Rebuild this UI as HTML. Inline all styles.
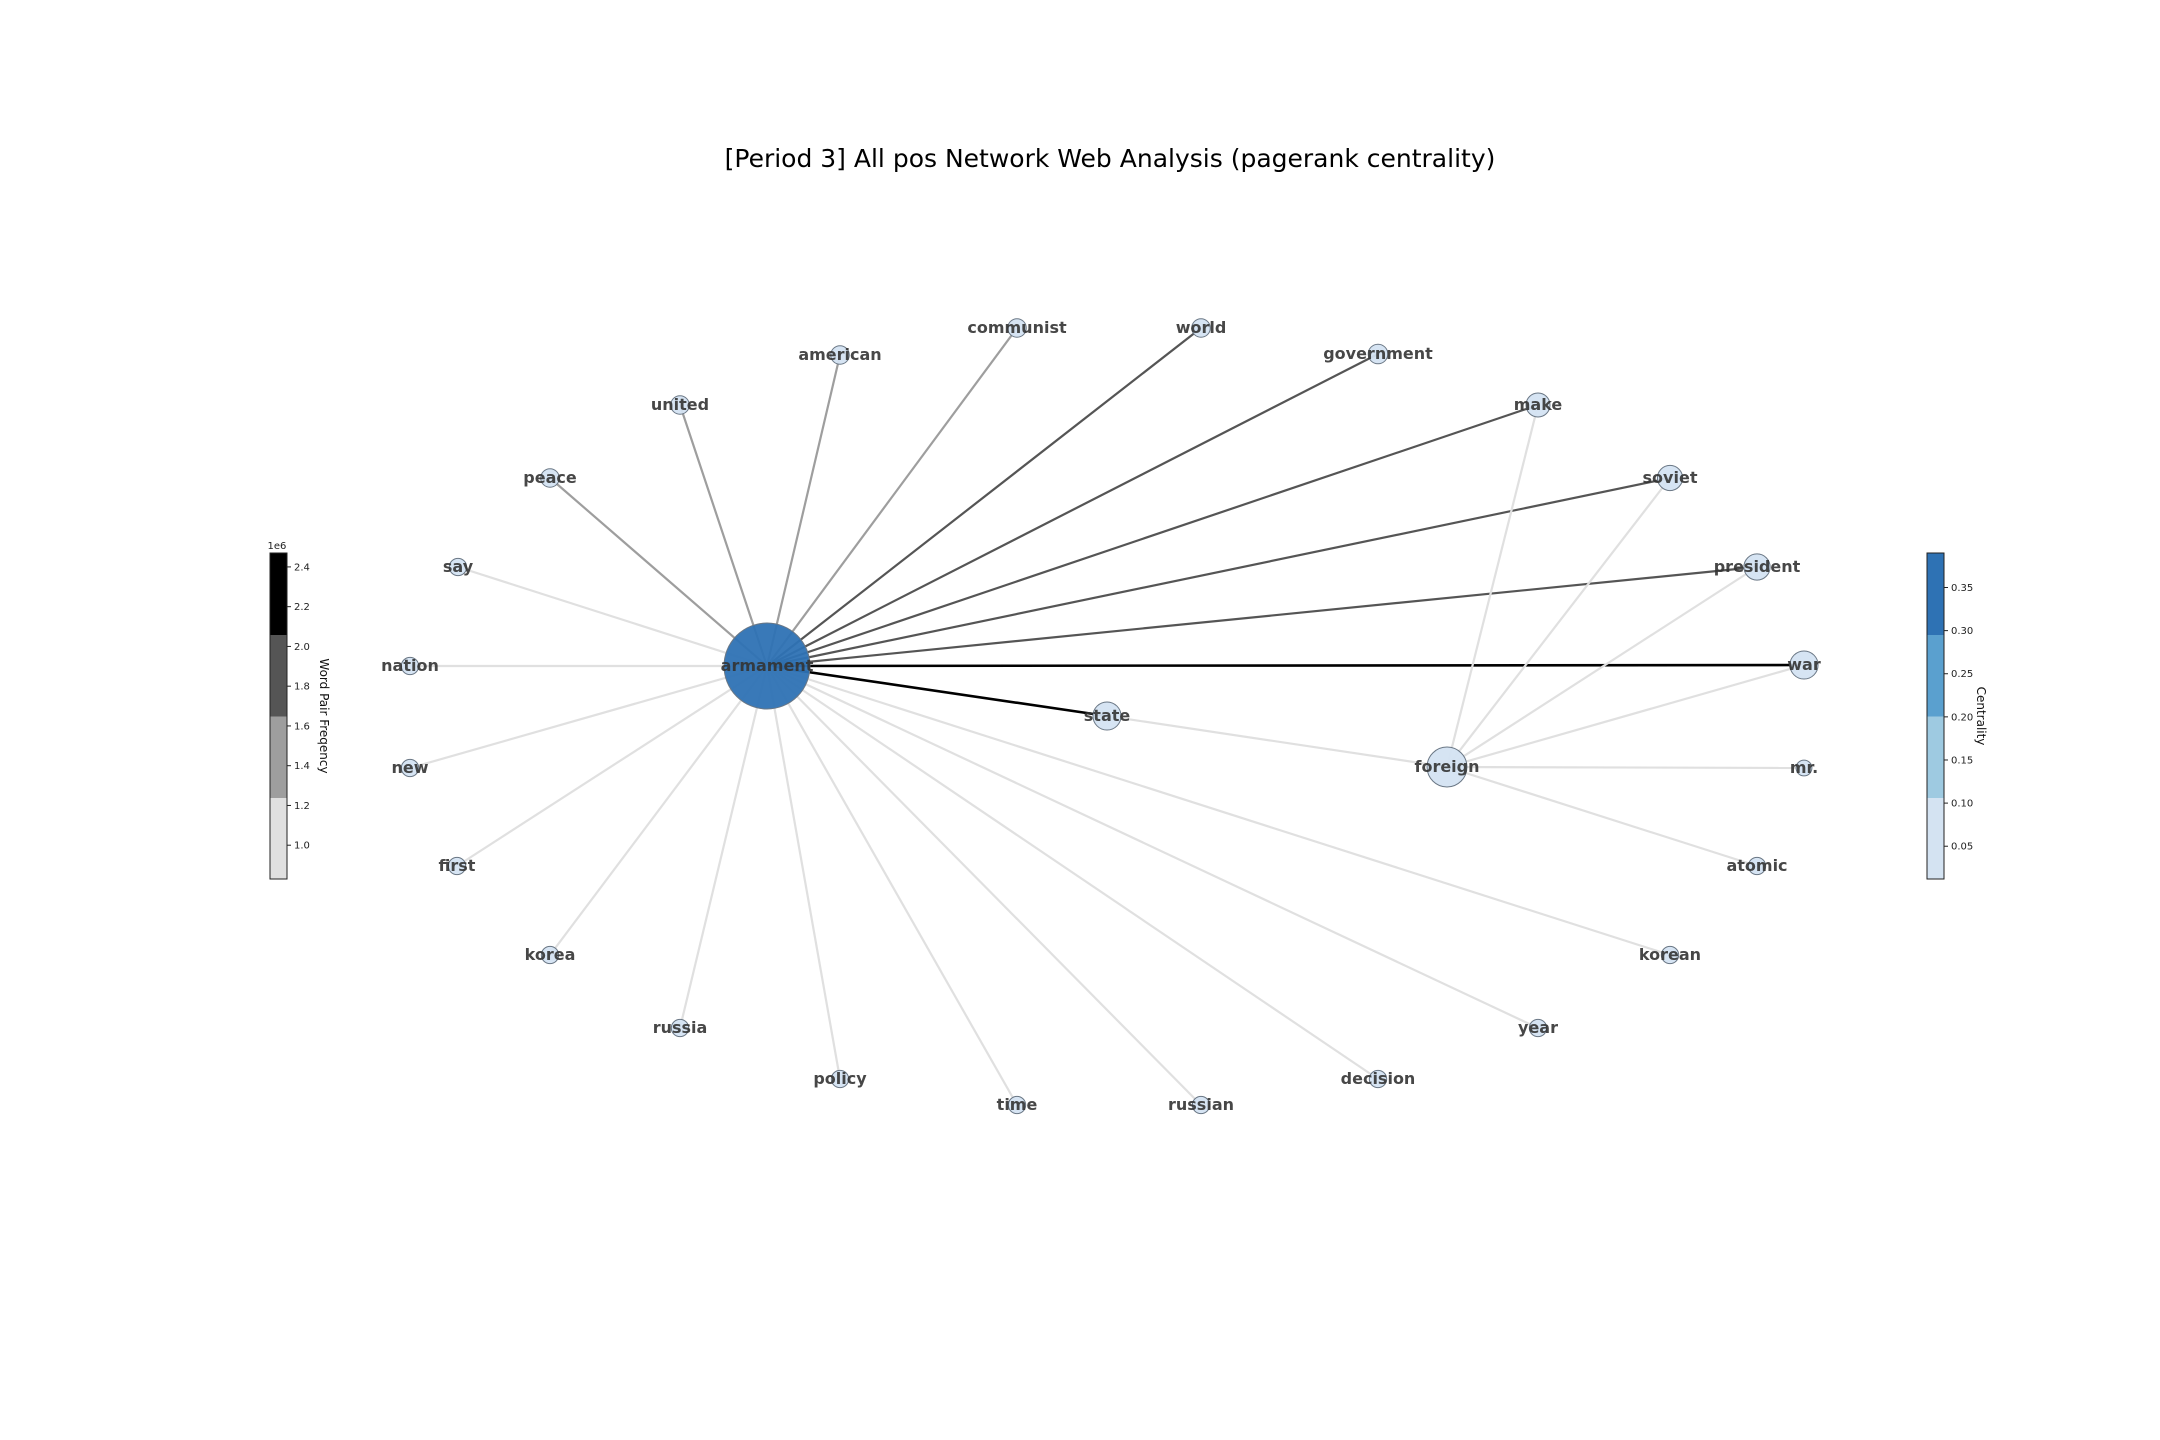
<!DOCTYPE html>
<html><head><meta charset="utf-8">
<style>
html,body{margin:0;padding:0;background:#fff;}
svg{display:block;font-family:"DejaVu Sans","Liberation Sans",sans-serif;}
</style></head>
<body>
<svg id="chart" width="2160" height="1440" viewBox="0 0 2160 1440">
<text x="1110" y="167" font-size="25" text-anchor="middle" fill="#000">[Period 3] All pos Network Web Analysis (pagerank centrality)</text>
<g id="edges"></g>
<g id="nodes"></g>
<g id="labels"></g>
<g id="cbLeft"></g>
<g id="cbRight"></g>
</svg>
<script>
// node words, centrality values, layout positions
const words = ["armament","state","foreign","war","president","soviet","make","government","world","communist","american","united","peace","say","nation","new","first","korea","russia","policy","time","russian","decision","year","korean","mr.","atomic"];
const centrality = [0.38,0.018,0.054,0.018,0.014,0.012,0.010,0.004,0.003,0.003,0.003,0.003,0.003,0.002,0.002,0.002,0.002,0.002,0.002,0.002,0.002,0.002,0.002,0.002,0.002,0.001,0.002];
const layoutX = [767,1107,1447,1804,1757,1670,1538,1378,1201,1017,840,680,550,458,410,410,457,550,680,840,1017,1201,1378,1538,1670,1804,1757];
const layoutY = [666,716,767,665,567,478,405,354,328,328,355,405,478,567,666,768,866,955,1028,1079,1105,1105,1079,1028,955,768,866];
// edges: source, target, frequency
const edgeSrc = ["armament","armament","armament","armament","armament","armament","armament","armament","armament","armament","armament","armament","armament","armament","armament","armament","armament","armament","armament","armament","armament","armament","armament","foreign","foreign","foreign","foreign","foreign","foreign","foreign"];
const edgeDst = ["war","state","president","soviet","make","government","world","communist","american","united","peace","say","nation","new","first","korea","russia","policy","time","russian","decision","year","korean","make","soviet","president","war","mr.","atomic","state"];
const edgeFreq = [2.45e6,2.3e6,1.9e6,1.85e6,1.8e6,1.75e6,1.7e6,1.5e6,1.45e6,1.4e6,1.35e6,1.0e6,1.0e6,0.95e6,0.95e6,0.9e6,0.9e6,0.9e6,0.9e6,0.9e6,0.9e6,0.9e6,0.9e6,0.9e6,0.9e6,0.9e6,0.9e6,0.9e6,0.9e6,0.9e6];
// colorbar ticks
const freqTicks = [1.0,1.2,1.4,1.6,1.8,2.0,2.2,2.4];
const centTicks = [0.05,0.10,0.15,0.20,0.25,0.30,0.35];

const NS="http://www.w3.org/2000/svg";
function mk(tag,attrs,parent){const e=document.createElementNS(NS,tag);for(const k in attrs)e.setAttribute(k,attrs[k]);parent.appendChild(e);return e;}
const fMin=0.83e6,fMax=2.47e6;
const grays=["#e0e0e0","#9e9e9e","#555555","#000000"];
function freqColor(f){let i=Math.floor((f-fMin)/(fMax-fMin)*4);return grays[Math.max(0,Math.min(3,i))];}
const cMin=0.012,cMax=0.39;
const blues=["#d4e3f2","#9ecae1","#5aa0cf","#2e72b4"];
function centColor(c){let i=Math.floor((c-cMin)/(cMax-cMin)*4);return blues[Math.max(0,Math.min(3,i))];}
function radius(c){return 6+Math.sqrt(c)*60;}
const idx={};words.forEach((w,i)=>idx[w]=i);

const eg=document.getElementById('edges');
for(let i=0;i<edgeSrc.length;i++){
  const a=idx[edgeSrc[i]],b=idx[edgeDst[i]];
  const col=freqColor(edgeFreq[i]);
  const l=mk('line',{x1:layoutX[a],y1:layoutY[a],x2:layoutX[b],y2:layoutY[b],stroke:col,'stroke-width':col==="#000000"?2.6:2.2},eg);
  
  
}
const ng=document.getElementById('nodes'),lg=document.getElementById('labels');
words.forEach((w,i)=>{
  const c=mk('circle',{cx:layoutX[i],cy:layoutY[i],r:radius(centrality[i]),fill:centColor(centrality[i]),'fill-opacity':0.95,stroke:'#6a7785','stroke-width':1},ng);
  
  
  const t=mk('text',{x:layoutX[i],y:layoutY[i]+5,'font-size':16,'font-weight':'bold','text-anchor':'middle',fill:'#333','fill-opacity':0.9},lg);
  t.textContent=w;
  
  
});
function colorbar(g,x,cols,ticks,vmin,vmax,fmt,label,extra){
  const top=553,bot=879,h=bot-top,w=17;
  for(let k=0;k<4;k++){
    const r=mk('rect',{x:x,y:bot-(k+1)*h/4,width:w,height:h/4+0.5,fill:cols[k]},g);
    
    
  }
  mk('rect',{x:x,y:top,width:w,height:h,fill:'none',stroke:'#222','stroke-width':1},g);
  ticks.forEach(v=>{
    const y=bot-(v-vmin)/(vmax-vmin)*h;
    mk('line',{x1:x+w,y1:y,x2:x+w+4,y2:y,stroke:'#222','stroke-width':1},g);
    const t=mk('text',{x:x+w+7,y:y+3.5,'font-size':10,fill:'#222'},g);
    t.textContent=fmt(v);
    
    
  });
  const lx=x+w+33,ly=(top+bot)/2;
  const lt=mk('text',{x:lx,y:ly,'font-size':12,fill:'#111','text-anchor':'middle',transform:`rotate(90 ${lx} ${ly})`},g);
  lt.textContent=label;
  
  
  if(extra){const e=mk('text',{x:x+7,y:top-4,'font-size':10,fill:'#222','text-anchor':'middle'},g);e.textContent=extra;
    
    }
}
colorbar(document.getElementById('cbLeft'),270,grays,freqTicks,0.83,2.47,v=>v.toFixed(1),'Word Pair Freqency','1e6');
colorbar(document.getElementById('cbRight'),1927,blues,centTicks,0.012,0.39,v=>v.toFixed(2),'Centrality',null);
</script>
</body></html>
